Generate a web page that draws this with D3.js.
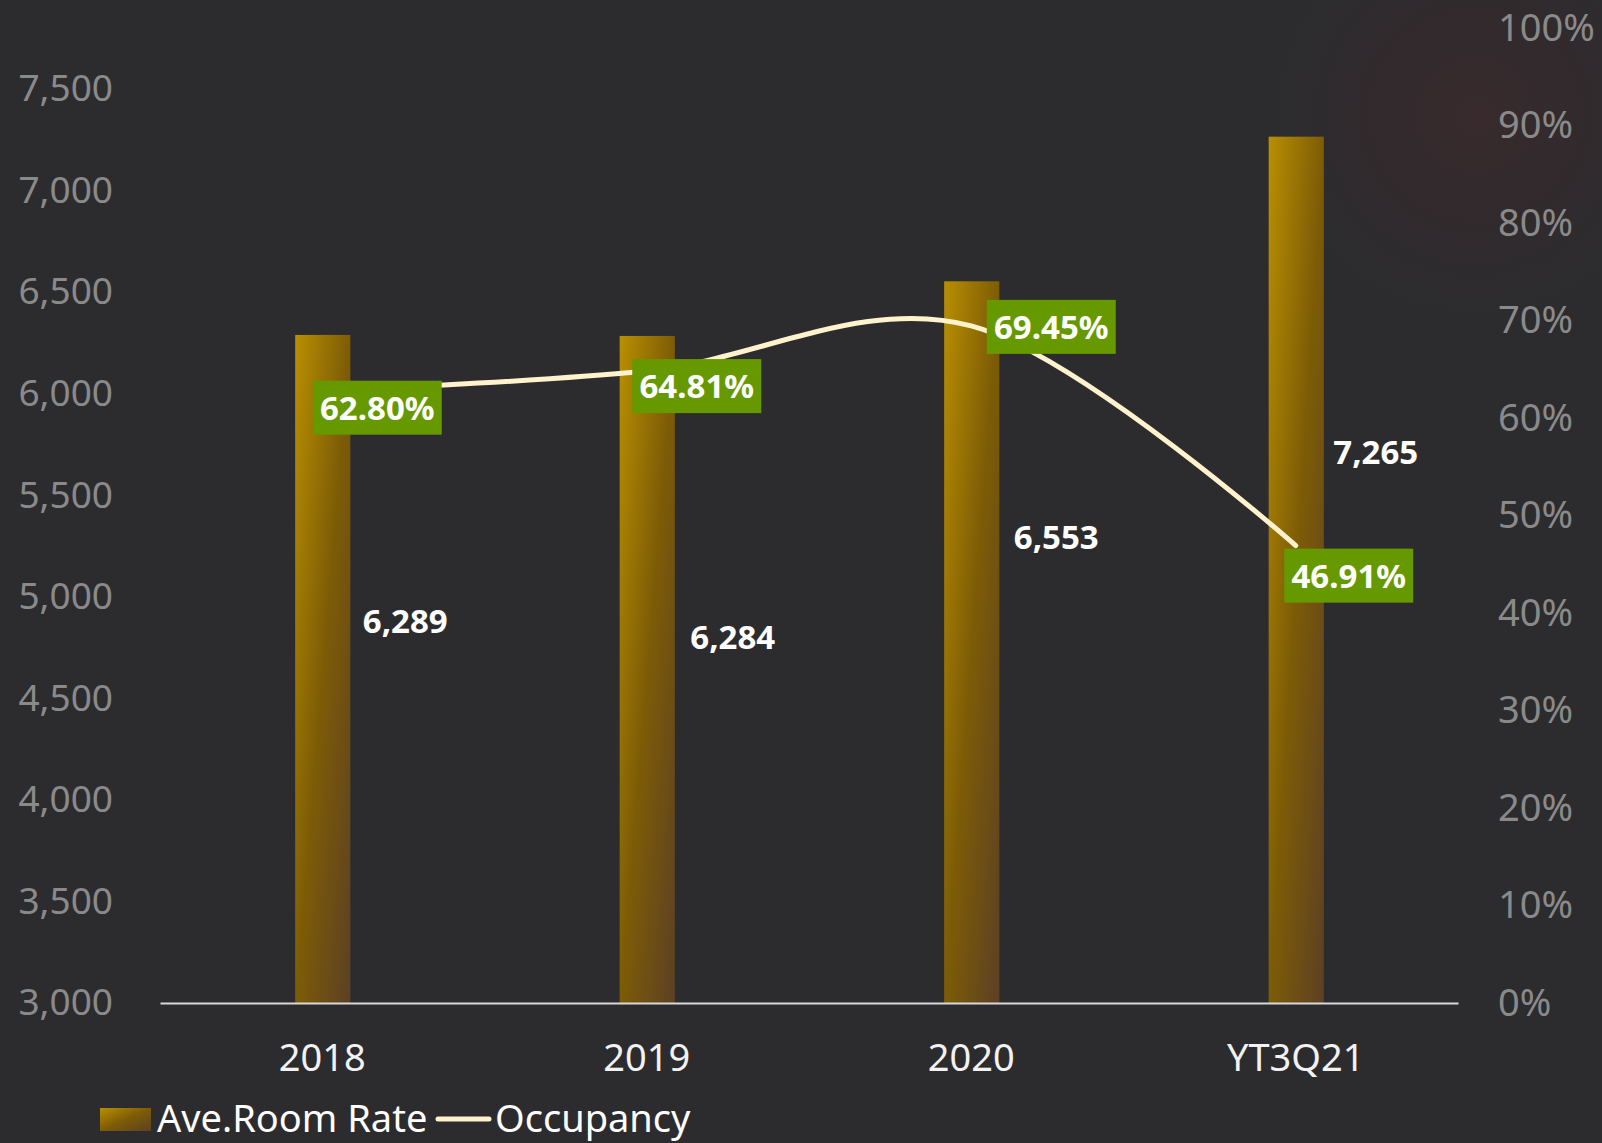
<!DOCTYPE html>
<html>
<head>
<meta charset="utf-8">
<script src="https://cdn.jsdelivr.net/npm/d3@7"></script>
<style>
  html, body { margin: 0; padding: 0; background: #2c2c2f; }
  svg { display: block; }
</style>
</head>
<body>
<svg id="chart" width="1602" height="1143"></svg>
<script>
// ---- data ----
const categories = ["2018", "2019", "2020", "YT3Q21"];
const roomRate = [6289, 6284, 6553, 7265];
const occupancy = [0.6280, 0.6481, 0.6945, 0.4691];
const rateTicks = [3000, 3500, 4000, 4500, 5000, 5500, 6000, 6500, 7000, 7500];
const pctTicks = [0, 0.1, 0.2, 0.3, 0.4, 0.5, 0.6, 0.7, 0.8, 0.9, 1.0];
const seriesNames = ["Ave.Room Rate", "Occupancy"];

// ---- layout ----
const W = 1602, H = 1143;
const plot = { left: 160, right: 1458, top: 28, bottom: 1003 };
const font = "'Noto Sans', 'Open Sans', sans-serif";

const svg = d3.select("#chart");
const defs = svg.append("defs");

// background
const bg = defs.append("radialGradient").attr("id", "glow")
  .attr("cx", 1475).attr("cy", 115).attr("r", 230).attr("gradientUnits", "userSpaceOnUse");
bg.append("stop").attr("offset", 0).attr("stop-color", "#3a2a2c").attr("stop-opacity", 0.9);
bg.append("stop").attr("offset", 0.5).attr("stop-color", "#35292c").attr("stop-opacity", 0.55);
bg.append("stop").attr("offset", 1).attr("stop-color", "#2c2c2f").attr("stop-opacity", 0);
svg.append("rect").attr("width", W).attr("height", H).attr("fill", "#2c2c2f");
svg.append("rect").attr("width", W).attr("height", H).attr("fill", "url(#glow)");

// bar gradient
const bar = defs.append("linearGradient").attr("id", "barGrad")
  .attr("x1", 0).attr("y1", 0).attr("x2", 1).attr("y2", 1);
bar.append("stop").attr("offset", 0).attr("stop-color", "#b98f02");
bar.append("stop").attr("offset", 0.5).attr("stop-color", "#7d5c06");
bar.append("stop").attr("offset", 1).attr("stop-color", "#5c4024");

// ---- scales ----
const x = d3.scaleBand().domain(categories).range([plot.left, plot.right]).paddingInner(0).paddingOuter(0);
const yL = d3.scaleLinear().domain([3000, 7800]).range([plot.bottom, plot.top]);
const yR = d3.scaleLinear().domain([0, 1]).range([plot.bottom, plot.top]);
const barW = x.bandwidth() * 0.17;
const cx = d => x(d) + x.bandwidth() / 2;

// ---- axes ----
const gL = svg.append("g").attr("transform", `translate(113,0)`)
  .call(d3.axisLeft(yL).tickValues(rateTicks).tickSize(0).tickPadding(0).tickFormat(d3.format(",")));
gL.select(".domain").remove();
gL.selectAll("text").attr("font-family", font).attr("font-size", 37).attr("fill", "#8a8a8a");

const gR = svg.append("g").attr("transform", `translate(1498,0)`)
  .call(d3.axisRight(yR).tickValues(pctTicks).tickSize(0).tickPadding(0).tickFormat(d3.format(".0%")));
gR.select(".domain").remove();
gR.selectAll("text").attr("font-family", font).attr("font-size", 38).attr("fill", "#8a8a8a");

// bars
svg.append("g").selectAll("rect").data(categories).join("rect")
  .attr("x", d => cx(d) - barW / 2 + 0.5)
  .attr("y", (d, i) => yL(roomRate[i]))
  .attr("width", barW)
  .attr("height", (d, i) => plot.bottom - yL(roomRate[i]))
  .attr("fill", "url(#barGrad)");

const gB = svg.append("g").attr("transform", `translate(0,${plot.bottom})`)
  .call(d3.axisBottom(x).tickSize(0).tickSizeOuter(0).tickPadding(41));
gB.select(".domain").attr("stroke", "#d9d9d9").attr("stroke-width", 2);
gB.selectAll("text").attr("font-family", font).attr("font-size", 38).attr("fill", "#f2f2f2");

// occupancy line
const line = d3.line()
  .x((d, i) => cx(categories[i]))
  .y(d => yR(d))
  .curve(d3.curveCatmullRom.alpha(0));
svg.append("path").datum(occupancy)
  .attr("d", line)
  .attr("fill", "none")
  .attr("stroke", "#fff2cc")
  .attr("stroke-width", 5)
  .attr("stroke-linecap", "round");

// bar value labels (manually placed in reference)
const rateLabelOffset = [[83, 286], [86, 301], [85, 256], [80, 315]];
svg.append("g").selectAll("text").data(categories).join("text")
  .attr("x", (d, i) => cx(d) + rateLabelOffset[i][0])
  .attr("y", (d, i) => yL(roomRate[i]) + rateLabelOffset[i][1])
  .attr("dy", "0.36em")
  .attr("text-anchor", "middle")
  .attr("font-family", font).attr("font-weight", "bold").attr("font-size", 33)
  .attr("fill", "#ffffff")
  .text((d, i) => d3.format(",")(roomRate[i]));

// occupancy labels
const pctLabelOffset = [[55, 17], [50, 15], [80, 1], [53, 30]];
const boxW = 129, boxH = 54;
const gP = svg.append("g").selectAll("g").data(categories).join("g")
  .attr("transform", (d, i) => `translate(${cx(d) + pctLabelOffset[i][0]},${yR(occupancy[i]) + pctLabelOffset[i][1]})`);
gP.append("rect").attr("x", -boxW / 2).attr("y", -boxH / 2).attr("width", boxW).attr("height", boxH).attr("fill", "#669900");
gP.append("text").attr("text-anchor", "middle").attr("dy", "0.36em")
  .attr("font-family", font).attr("font-weight", "bold").attr("font-size", 33)
  .attr("fill", "#ffffff")
  .text((d, i) => d3.format(".2%")(occupancy[i]));

// legend
const leg = svg.append("g");
leg.append("rect").attr("x", 100).attr("y", 1108).attr("width", 51).attr("height", 23).attr("fill", "url(#barGrad)");
leg.append("text").attr("x", 157).attr("y", 1132)
  .attr("font-family", font).attr("font-size", 38).attr("fill", "#ffffff").text(seriesNames[0]);
leg.append("line").attr("x1", 438).attr("x2", 489).attr("y1", 1119).attr("y2", 1119)
  .attr("stroke", "#fff2cc").attr("stroke-width", 5).attr("stroke-linecap", "round");
leg.append("text").attr("x", 495).attr("y", 1132)
  .attr("font-family", font).attr("font-size", 38).attr("fill", "#ffffff").text(seriesNames[1]);
</script>
</body>
</html>
